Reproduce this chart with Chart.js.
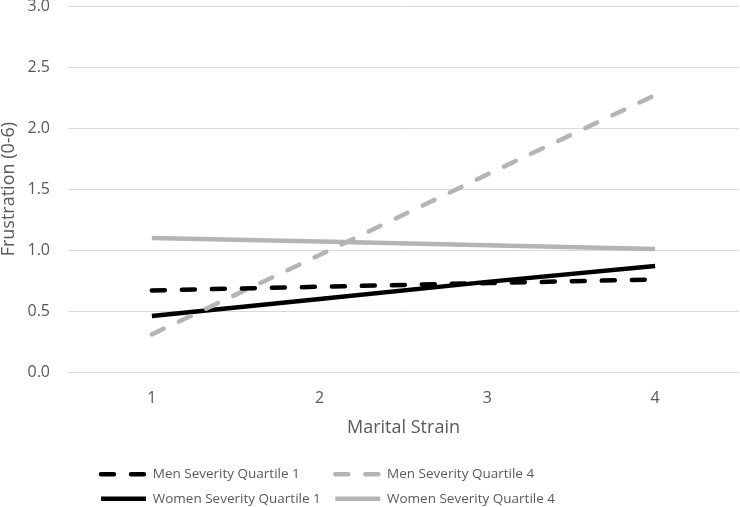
<!DOCTYPE html>
<html><head><meta charset="utf-8">
<script src="https://cdn.jsdelivr.net/npm/chart.js@4.4.1/dist/chart.umd.min.js"></script>
<style>html,body{margin:0;padding:0;background:#fff}#wrap{width:740px;height:507px;position:relative}</style>
</head><body><div id="wrap"><canvas id="c"></canvas></div>
<script>
const categories = ['1', '2', '3', '4'];
const menQ1 = [0.67, 0.70, 0.73, 0.76];
const menQ4 = [0.31, 0.96, 1.62, 2.27];
const womenQ1 = [0.46, 0.60, 0.74, 0.87];
const womenQ4 = [1.10, 1.07, 1.04, 1.01];
const seriesNames = ['Men Severity Quartile 1', 'Men Severity Quartile 4', 'Women Severity Quartile 1', 'Women Severity Quartile 4'];
const xTitle = 'Marital Strain';
const yTitle = 'Frustration (0-6)';
const yMin = 0, yMax = 3, yStep = 0.5;

const FONT = "'Open Sans', sans-serif";
const TEXT = '#595959';
const BLACK = '#000000';
const GRAY = '#b4b4b4';
const LEGEND_SIZE = 13.5;

function mk(label, data, color, dashed) {
  return {
    label, data,
    borderColor: color, backgroundColor: color,
    borderWidth: 4.5,
    borderDash: dashed ? [13, 17] : [],
    borderCapStyle: dashed ? 'round' : 'butt',
    pointRadius: 0, pointHoverRadius: 0,
    tension: 0, fill: false
  };
}

const measureCtx = document.createElement('canvas').getContext('2d');
measureCtx.font = LEGEND_SIZE + 'px ' + FONT;
const COL1_TEXT_WIDTH = 171;

const legendPlace = {
  id: 'legendPlace',
  afterLayout(chart) {
    const lg = chart.legend;
    const h = lg.height;
    lg.left = 90;
    lg.right = 90 + 480;
    lg.top = 456.5;
    lg.bottom = lg.top + h;
  }
};

new Chart(document.getElementById('c'), {
  type: 'line',
  data: {
    labels: categories,
    datasets: [
      mk(seriesNames[0], menQ1, BLACK, true),
      mk(seriesNames[1], menQ4, GRAY, true),
      mk(seriesNames[2], womenQ1, BLACK, false),
      mk(seriesNames[3], womenQ4, GRAY, false)
    ]
  },
  plugins: [legendPlace],
  options: {
    responsive: true,
    maintainAspectRatio: false,
    animation: false,
    layout: { padding: { top: 6, right: 1, bottom: 9, left: 0 } },
    plugins: {
      tooltip: { enabled: false },
      legend: {
        position: 'bottom',
        align: 'start',
        labels: {
          usePointStyle: true,
          pointStyle: 'line',
          pointStyleWidth: 45,
          boxHeight: LEGEND_SIZE,
          padding: 11,
          color: TEXT,
          font: { family: FONT, size: LEGEND_SIZE },
          generateLabels(chart) {
            const items = Chart.defaults.plugins.legend.labels.generateLabels(chart);
            items.forEach((it, i) => {
              const ds = chart.data.datasets[it.datasetIndex];
              it.pointStyle = 'line';
              it.lineDash = ds.borderDash;
              it.lineCap = ds.borderCapStyle;
              it.lineWidth = ds.borderWidth;
              it.strokeStyle = ds.borderColor;
              if (i % 2 === 0) {
                let t = it.text;
                while (measureCtx.measureText(t).width < COL1_TEXT_WIDTH) t += ' ';
                it.text = t;
              }
            });
            return items;
          }
        }
      }
    },
    scales: {
      x: {
        offset: true,
        grid: { display: false, drawTicks: false },
        border: { display: false },
        ticks: { color: TEXT, font: { family: FONT, size: 16 }, padding: 16.4 },
        title: { display: true, text: xTitle, color: TEXT, font: { family: FONT, size: 18 }, padding: { top: 9.6, bottom: 0 } },
        afterFit(s) { s.height = 66.8; }
      },
      y: {
        min: yMin, max: yMax,
        grid: { color: '#d9d9d9', lineWidth: 1, drawTicks: false },
        border: { display: false },
        ticks: { stepSize: yStep, color: TEXT, font: { family: FONT, size: 16 }, padding: 18, callback: v => Number(v).toFixed(1) },
        title: { display: true, text: yTitle, color: TEXT, font: { family: FONT, size: 18, lineHeight: 1 }, padding: { top: 0, bottom: 7 } },
        afterFit(s) { s.paddingTop = 0; s.width = 68; }
      }
    }
  }
});
</script>
</body></html>
